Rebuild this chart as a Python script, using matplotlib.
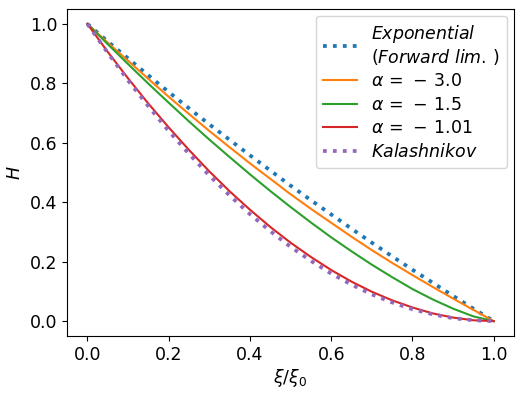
import matplotlib
matplotlib.use("Agg")
import matplotlib.pyplot as plt

# xi / xi_0 sample points (every 0.05)
xi = [0.0, 0.05, 0.1, 0.15, 0.2, 0.25, 0.3, 0.35, 0.4, 0.45, 0.5,
      0.55, 0.6, 0.65, 0.7, 0.75, 0.8, 0.85, 0.9, 0.95, 1.0]

h_exponential = [1.0, 0.941, 0.884, 0.827, 0.771, 0.716, 0.662, 0.610, 0.558, 0.507, 0.456,
                 0.407, 0.359, 0.311, 0.264, 0.218, 0.173, 0.129, 0.085, 0.042, 0.0]
h_alpha_30 = [1.0, 0.937, 0.876, 0.815, 0.755, 0.697, 0.640, 0.585, 0.531, 0.479, 0.427,
              0.378, 0.331, 0.284, 0.239, 0.196, 0.155, 0.115, 0.076, 0.038, 0.0]
h_alpha_15 = [1.0, 0.932, 0.865, 0.799, 0.735, 0.672, 0.611, 0.552, 0.494, 0.438, 0.384,
              0.332, 0.282, 0.235, 0.190, 0.148, 0.108, 0.073, 0.042, 0.016, 0.0]
h_alpha_101 = [1.0, 0.906, 0.817, 0.732, 0.652, 0.576, 0.504, 0.437, 0.375, 0.317, 0.264,
               0.216, 0.172, 0.133, 0.099, 0.070, 0.046, 0.026, 0.012, 0.003, 0.0]
h_kalashnikov = [1.0, 0.903, 0.810, 0.723, 0.640, 0.563, 0.490, 0.423, 0.360, 0.303, 0.250,
                 0.203, 0.160, 0.123, 0.090, 0.063, 0.040, 0.023, 0.010, 0.003, 0.0]

labels = [r'$\it{Exponential}$' + '\n' + r'$\it{(Forward\ lim.\,)}$',
          r'$\alpha\,=\,-\,3.0$', r'$\alpha\,=\,-\,1.5$', r'$\alpha\,=\,-\,1.01$',
          r'$\it{Kalashnikov}$']

plt.rcParams['font.size'] = 12.5

fig = plt.figure(figsize=(5.24, 3.93), dpi=100)
ax = fig.add_axes([0.128, 0.145, 0.853, 0.832])

ax.plot(xi, h_exponential, ':', color='tab:blue', lw=2.7, label=labels[0])
ax.plot(xi, h_alpha_30, '-', color='tab:orange', lw=1.5, label=labels[1])
ax.plot(xi, h_alpha_15, '-', color='tab:green', lw=1.5, label=labels[2])
ax.plot(xi, h_alpha_101, '-', color='tab:red', lw=1.5, label=labels[3])
ax.plot(xi, h_kalashnikov, ':', color='tab:purple', lw=2.7, label=labels[4])

ax.set_xlabel(r'$\xi/\xi_0$', labelpad=2)
ax.set_ylabel(r'$H$')
leg = ax.legend(loc='upper right', labelspacing=0.32, borderaxespad=0.4)
leg.get_texts()[0].set_linespacing(1.1)

fig.savefig('out.png', dpi=100)
